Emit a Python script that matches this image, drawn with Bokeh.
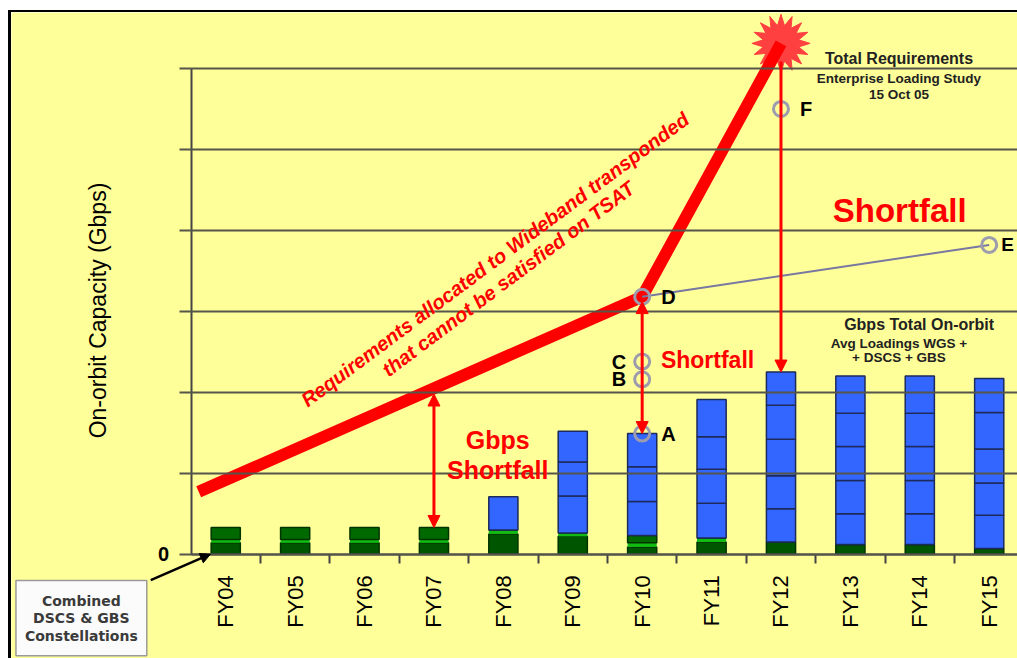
import math
import numpy as np
from bokeh.plotting import figure
from bokeh.models import (Range1d, FixedTicker, ColumnDataSource, Label, Arrow,
                          NormalHead)
from bokeh.embed import file_html
from bokeh.resources import INLINE

NA = float("nan")  # no satellite layer in that year

# ---------------- data ----------------
years = ["FY04", "FY05", "FY06", "FY07", "FY08", "FY09",
         "FY10", "FY11", "FY12", "FY13", "FY14", "FY15"]
# combined DSCS & GBS (green layers), Gbps in gridline units
green_base   = [0.14, 0.14, 0.14, 0.14, 0.25, 0.22, 0.09, 0.15, 0.15, 0.12, 0.12, 0.07]
green_stripe = [0.04, 0.04, 0.04, 0.04, 0.05, 0.04, 0.05, 0.05, 0.00, 0.00, 0.00, 0.00]
green_top    = [0.15, 0.15, 0.15, 0.15, 0.00, 0.00, 0.09, 0.00, 0.00, 0.00, 0.00, 0.00]
# WGS satellites (blue layers)
wgs1 = [NA, NA, NA, NA, 0.41, 0.46, 0.42, 0.43, 0.41, 0.38, 0.38, 0.41]
wgs2 = [NA, NA, NA, NA, NA,   0.42, 0.43, 0.42, 0.41, 0.41, 0.41, 0.40]
wgs3 = [NA, NA, NA, NA, NA,   0.38, 0.41, 0.40, 0.45, 0.42, 0.42, 0.42]
wgs4 = [NA, NA, NA, NA, NA,   NA,   NA,   0.46, 0.42, 0.41, 0.41, 0.45]
wgs5 = [NA, NA, NA, NA, NA,   NA,   NA,   NA,   0.41, 0.46, 0.46, 0.42]

# total requirements line (x = year index)
req_x = [-0.39, 6, 8]
req_y = [0.77, 3.18, 6.31]

# reference points
point_labels = ["A", "B", "C", "D", "E", "F"]
point_x = [6, 6, 6, 6, 11, 8]
point_y = [1.49, 2.16, 2.38, 3.18, 3.82, 5.50]

# ---------------- layout ----------------
BG = "#FFFF99"
W, H = 1009, 648            # element size incl. CSS border (border-box)
CANVAS_W, CANVAS_H = W - 3, H - 2
AXIS_PX, BASE_PX = 179, 540  # y axis / baseline position inside canvas
PX_X, PX_Y = 69.2, 80.7
x0 = -0.5 - AXIS_PX / PX_X
x1 = -0.5 + (CANVAS_W - AXIS_PX) / PX_X
y1 = BASE_PX / PX_Y
y0 = -(CANVAS_H - BASE_PX) / PX_Y

p = figure(width=W, height=H, x_range=Range1d(x0, x1), y_range=Range1d(y0, y1),
           output_backend="svg", toolbar_location=None, min_border=0,
           min_border_left=0, min_border_right=0, min_border_top=0,
           min_border_bottom=0, background_fill_color=BG,
           border_fill_color=BG, outline_line_color=None)
p.styles = {"margin-left": "8px", "margin-top": "10px",
            "border-left": "3px solid #000", "border-top": "2px solid #000"}

GRID = "#55554a"
# y axis drawn at the left edge of the first category; its ticks form the grid
p.yaxis.fixed_location = -0.5
p.yaxis.ticker = FixedTicker(ticks=[0, 1, 2, 3, 4, 5, 6])
p.yaxis.bounds = (0, 6)
p.yaxis.major_label_overrides = {i: "" for i in range(1, 7)}
p.yaxis.major_label_overrides[0] = "0"
p.yaxis.axis_line_color = "#444444"
p.yaxis.axis_line_width = 2
p.yaxis.major_tick_out = 12
p.yaxis.major_tick_in = int(CANVAS_W - AXIS_PX)
p.yaxis.major_tick_line_color = GRID
p.yaxis.major_tick_line_width = 2
p.yaxis.minor_tick_line_color = None
p.yaxis.major_label_text_font = "Liberation Sans"
p.yaxis.major_label_text_font_style = "bold"
p.yaxis.major_label_text_font_size = "20px"
p.yaxis.major_label_text_color = "#000000"
p.yaxis.major_label_standoff = 10
p.ygrid.grid_line_color = None
p.xgrid.grid_line_color = None

# x axis at y = 0
p.xaxis.fixed_location = 0
p.xaxis.bounds = (-0.5, x1)
p.xaxis.ticker = FixedTicker(ticks=list(range(len(years))),
                             minor_ticks=[i + 0.5 for i in range(len(years) - 1)])
p.xaxis.major_label_overrides = {i: y for i, y in enumerate(years)}
p.xaxis.major_label_orientation = math.pi / 2
p.xaxis.major_tick_out = 0
p.xaxis.major_tick_in = 0
p.xaxis.minor_tick_out = 9
p.xaxis.minor_tick_in = 0
p.xaxis.minor_tick_line_color = "#444444"
p.xaxis.minor_tick_line_width = 2
p.xaxis.axis_line_color = "#444444"
p.xaxis.axis_line_width = 2
p.xaxis.major_label_text_font = "Liberation Sans"
p.xaxis.major_label_text_font_size = "22px"
p.xaxis.major_label_text_color = "#000000"
p.xaxis.major_label_standoff = 12

# ---------------- bars ----------------
src = ColumnDataSource(dict(x=list(range(len(years))), green_base=green_base,
                            green_stripe=green_stripe, green_top=green_top,
                            wgs1=wgs1, wgs2=wgs2, wgs3=wgs3, wgs4=wgs4, wgs5=wgs5))
stackers = ["green_base", "green_stripe", "green_top", "wgs1", "wgs2", "wgs3", "wgs4", "wgs5"]
BLUE = "#3366FF"
p.vbar_stack(stackers, x="x", width=0.42, source=src,
             fill_color=["#005500", "#11bb11", "#006a00", BLUE, BLUE, BLUE, BLUE, BLUE],
             line_color=["#003300", "#11bb11", "#003300", "#1c2a5c", "#1c2a5c", "#1c2a5c", "#1c2a5c", "#1c2a5c"],
             line_width=[1.5, 0, 1.5, 1.5, 1.5, 1.5, 1.5, 1.5])

# ---------------- requirement line, star ----------------
cx, cy = req_x[-1], req_y[-1]
n = 16
ang = np.linspace(0, 2 * np.pi, 2 * n, endpoint=False) + np.pi / 2
rad = np.where(np.arange(2 * n) % 2 == 0, 29.0, 18.0)
p.patch(cx + rad * np.cos(ang) / PX_X, cy + rad * np.sin(ang) / PX_Y,
        fill_color="#ff4040", line_color="#ff4040")

p.line(req_x, req_y, line_color="#ff0000", line_width=12, line_join="round", line_cap="butt")

# D -> E projection line
p.line([point_x[3], point_x[4]], [point_y[3], point_y[4]], line_color="#7878a0", line_width=2)

# ---------------- arrows ----------------
def head():
    return NormalHead(size=12, fill_color="#ff0000", line_color="#ff0000", line_width=1)

def total(i):
    return sum(s[i] for s in [green_base, green_stripe, green_top, wgs1, wgs2, wgs3, wgs4, wgs5]
               if not math.isnan(s[i]))

fy07 = 3
top07 = float(np.interp(fy07, req_x, req_y)) - 0.07
p.add_layout(Arrow(x_start=fy07, y_start=top07, x_end=fy07, y_end=total(fy07),
                   start=head(), end=head(), line_color="#ff0000", line_width=3))
p.add_layout(Arrow(x_start=6, y_start=point_y[3] - 0.06, x_end=6, y_end=point_y[0],
                   start=head(), end=head(), line_color="#ff0000", line_width=3))
fy12 = 8
p.add_layout(Arrow(x_start=fy12, y_start=cy - 18.0 / PX_Y, x_end=fy12, y_end=total(fy12),
                   end=head(), line_color="#ff0000", line_width=3))
# combined box arrow
p.add_layout(Arrow(x_start=-1.08, y_start=-0.32, x_end=-0.22, y_end=0.0,
                   end=NormalHead(size=10, fill_color="#000000", line_color="#000000"),
                   line_color="#000000", line_width=2.5))

# points
p.scatter(point_x, point_y, size=15, fill_color=None, line_color="#9c9cae", line_width=3)

# ---------------- texts ----------------
def lab(text, x, y, size, color="#000000", align="left", baseline="middle",
        style="bold", font="Liberation Sans", angle=0.0, xo=0, yo=0, **kw):
    p.add_layout(Label(x=x, y=y, text=text, text_font_size=size, text_color=color,
                       text_align=align, text_baseline=baseline, text_font_style=style,
                       text_font=font, angle=angle, x_offset=xo, y_offset=yo, **kw))

for t, x, y in zip(point_labels, point_x, point_y):
    if t in ("B", "C"):
        lab(t, x, y, "20px", align="right", xo=-16)
    elif t == "E":
        lab(t, x, y, "19px", align="left", xo=12)
    else:
        lab(t, x, y, "20px", align="left", xo=19)

RED = "#ff0000"
lab("Requirements allocated to Wideband transponded", 3.88, 3.64, "20px", RED,
    align="center", baseline="alphabetic", style="bold italic", angle=0.64)
lab("that cannot be satisfied on TSAT", 4.07, 3.40, "20px", RED,
    align="center", baseline="alphabetic", style="bold italic", angle=0.645)
lab("Gbps", 3.92, 1.41, "25px", RED, align="center")
lab("Shortfall", 3.92, 1.04, "25px", RED, align="center")
lab("Shortfall", 6.27, 2.40, "23px", RED, align="left")
lab("Shortfall", 9.71, 4.24, "33px", RED, align="center")
lab("Total Requirements", 9.70, 6.12, "16px", "#222222", align="center")
lab("Enterprise Loading Study", 9.70, 5.87, "13.5px", "#222222", align="center")
lab("15 Oct 05", 9.70, 5.68, "13.5px", "#222222", align="center")
lab("Gbps Total On-orbit", 9.99, 2.84, "16px", "#222222", align="center")
lab("Avg Loadings WGS +", 9.70, 2.60, "13.5px", "#222222", align="center")
lab("+ DSCS + GBS", 9.70, 2.43, "13.5px", "#222222", align="center")

lab("On-orbit Capacity (Gbps)", -1.835, 3.01, "23px", "#000000", align="center",
    style="normal", angle=math.pi / 2)

lab("Combined\nDSCS & GBS\nConstellations", -2.08, -0.79, "14px", "#3a3a3a",
    align="center", font="DejaVu Sans", background_fill_color="#fbfbfb",
    border_line_color="#9a9a9a", border_line_width=1.5, padding=(9, 12),
    text_line_height=1.1)

open("out.html", "w").write(file_html(p, INLINE))
